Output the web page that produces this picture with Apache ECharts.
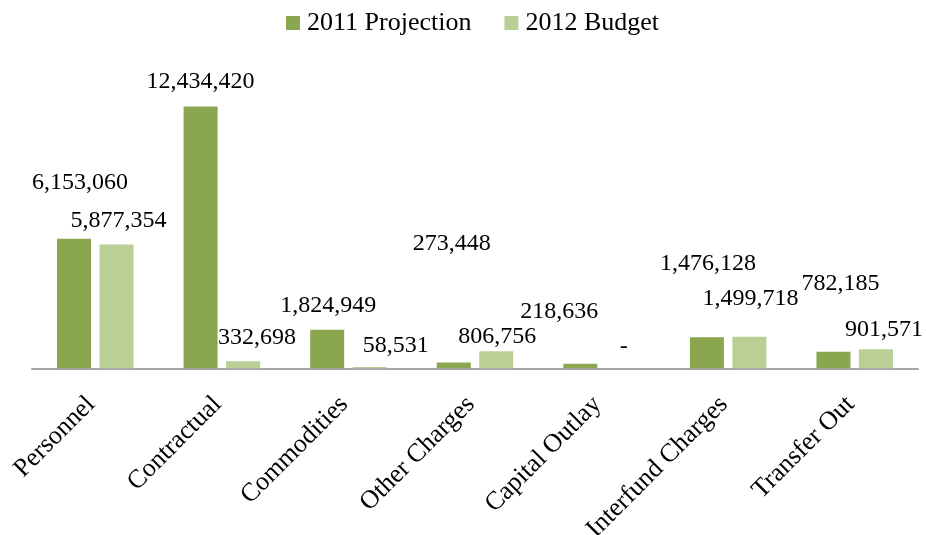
<!DOCTYPE html>
<html>
<head>
<meta charset="utf-8">
<script src="https://cdn.jsdelivr.net/npm/echarts@6/dist/echarts.min.js"></script>
<style>
  html, body { margin: 0; padding: 0; background: #fff; }
  #chart { width: 926px; height: 535px; }
</style>
</head>
<body>
<div id="chart"></div>
<script>
// Expenditure categories and the two budget series
const categories = ['Personnel', 'Contractual', 'Commodities', 'Other Charges', 'Capital Outlay', 'Interfund Charges', 'Transfer Out'];
const projection2011 = [6153060, 12434420, 1824949, 273448, 218636, 1476128, 782185];
const budget2012 = [5877354, 332698, 58531, 806756, 0, 1499718, 901571];

// Extra [dx, dy] nudges for the value labels so they don't collide
const labelShift2011 = [[6, -39], [0, -8], [1, -7], [-2, -102], [-21, -35], [1, -57], [7, -51]];
const labelShift2012 = [[2, -7], [14, -7], [26, -4], [1, 2], [1, -5], [1, -21], [8, -3]];

const serif = '"Liberation Serif", "Times New Roman", serif';
const fmt = v => v === 0 ? '-' : v.toLocaleString('en-US');

function toItems(values, shifts) {
  return values.map((v, i) => ({ value: v, label: { offset: shifts[i] } }));
}

const chart = echarts.init(document.getElementById('chart'));
chart.setOption({
  animation: false,
  legend: {
    top: 5,
    left: 281,
    itemWidth: 14,
    itemHeight: 14,
    itemGap: 33,
    icon: 'rect',
    textStyle: { fontFamily: serif, fontSize: 26, color: '#000', padding: [0, 0, 0, 2] },
    data: ['2011 Projection', '2012 Budget']
  },
  grid: { left: 32, right: 8, top: 73.4, bottom: 166.7, outerBoundsMode: 'none', containLabel: false },
  xAxis: {
    type: 'category',
    data: categories,
    axisTick: { show: false },
    axisLine: { lineStyle: { color: '#a6a6a6', width: 2 } },
    axisLabel: {
      rotate: 45,
      interval: 0,
      margin: 28,
      padding: [0, 6, 0, 0],
      fontFamily: serif,
      fontSize: 26,
      color: '#000'
    }
  },
  yAxis: {
    type: 'value',
    min: 0,
    max: 14000000,
    show: false,
    splitLine: { show: false }
  },
  series: [
    {
      name: '2011 Projection',
      type: 'bar',
      barWidth: 34,
      barGap: '25%',
      itemStyle: { color: '#8aa64f' },
      label: {
        show: true,
        position: 'top',
        fontFamily: serif,
        fontSize: 24,
        color: '#000',
        formatter: p => fmt(p.value)
      },
      data: toItems(projection2011, labelShift2011)
    },
    {
      name: '2012 Budget',
      type: 'bar',
      barWidth: 34,
      barGap: '25%',
      itemStyle: { color: '#bacf96' },
      label: {
        show: true,
        position: 'top',
        fontFamily: serif,
        fontSize: 24,
        color: '#000',
        formatter: p => fmt(p.value)
      },
      data: toItems(budget2012, labelShift2012)
    }
  ]
});
</script>
</body>
</html>
